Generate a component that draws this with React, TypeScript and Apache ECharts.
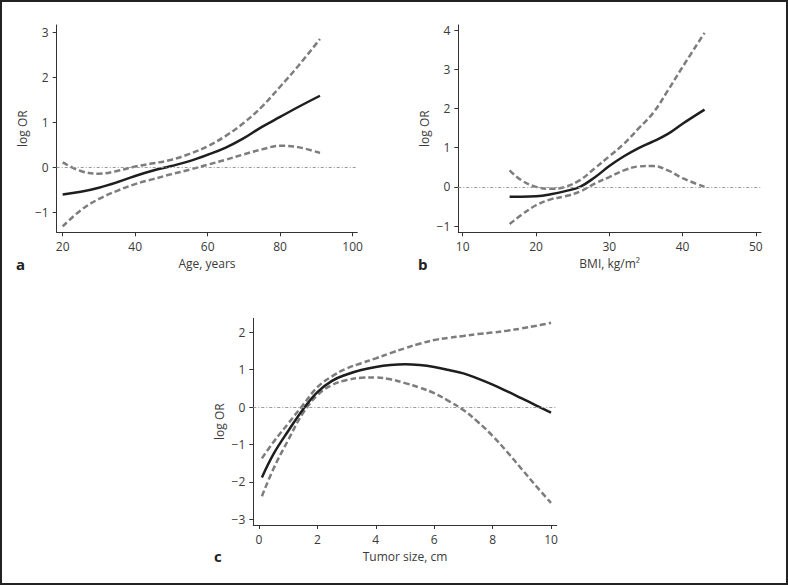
import React, { useEffect, useRef } from "react";
import * as echarts from "echarts";

// Panel a: Age
const ageX = [20, 25, 30, 35, 40, 45, 50, 55, 60, 65, 70, 75, 80, 85, 91];
const ageFit = [-0.6, -0.54, -0.45, -0.33, -0.19, -0.07, 0.03, 0.14, 0.28, 0.44, 0.65, 0.9, 1.12, 1.34, 1.59];
const ageUpper = [0.11, -0.08, -0.14, -0.08, 0.02, 0.09, 0.17, 0.3, 0.47, 0.7, 0.99, 1.35, 1.79, 2.25, 2.85];
const ageLower = [-1.31, -0.95, -0.7, -0.52, -0.37, -0.26, -0.15, -0.05, 0.06, 0.17, 0.29, 0.4, 0.48, 0.45, 0.32];

// Panel b: BMI
const bmiX = [16.4, 18, 20, 22, 24, 26, 28, 30, 32, 34, 36, 38, 40, 43];
const bmiFit = [-0.25, -0.25, -0.24, -0.19, -0.11, 0.0, 0.24, 0.53, 0.78, 0.99, 1.16, 1.35, 1.61, 1.97];
const bmiUpper = [0.42, 0.17, 0.0, -0.05, 0.0, 0.17, 0.47, 0.78, 1.1, 1.49, 1.89, 2.46, 3.06, 3.93];
const bmiLower = [-0.95, -0.72, -0.47, -0.32, -0.24, -0.12, 0.08, 0.25, 0.42, 0.52, 0.53, 0.42, 0.22, 0.0];

// Panel c: Tumor size
const tumX = [0.1, 0.5, 1, 1.5, 2, 2.5, 3, 3.5, 4, 4.5, 5, 5.5, 6, 6.5, 7, 7.5, 8, 8.5, 9, 9.5, 10];
const tumFit = [-1.88, -1.25, -0.64, -0.07, 0.4, 0.7, 0.87, 0.99, 1.07, 1.12, 1.14, 1.12, 1.07, 0.99, 0.9, 0.76, 0.6, 0.42, 0.23, 0.04, -0.15];
const tumUpper = [-1.37, -0.93, -0.44, 0.05, 0.53, 0.82, 1.03, 1.17, 1.3, 1.44, 1.57, 1.69, 1.79, 1.85, 1.9, 1.95, 1.99, 2.04, 2.1, 2.17, 2.25];
const tumLower = [-2.38, -1.64, -0.88, -0.17, 0.32, 0.59, 0.72, 0.78, 0.79, 0.74, 0.64, 0.52, 0.37, 0.16, -0.08, -0.4, -0.77, -1.2, -1.66, -2.12, -2.56];

const ageTicks = [20, 40, 60, 80, 100];
const bmiTicks = [10, 20, 30, 40, 50];
const tumTicks = [0, 2, 4, 6, 8, 10];
const ageYTicks = [-1, 0, 1, 2, 3];
const bmiYTicks = [-1, 0, 1, 2, 3, 4];
const tumYTicks = [-3, -2, -1, 0, 1, 2];

const FONT = "'Open Sans', 'Noto Sans', sans-serif";
const AXIS_COLOR = "#333";
const TEXT_COLOR = "#3a3a3a";

function fmt(v: number) {
  return v < 0 ? "\u2212" + Math.abs(v) : String(v);
}

function xAxisDef(gridIndex: number, min: number, max: number, ticks: number[], name: string) {
  return {
    type: "value",
    gridIndex,
    min,
    max,
    name,
    nameLocation: "middle",
    nameGap: 25,
    nameTextStyle: { fontFamily: FONT, fontSize: 12, color: TEXT_COLOR },
    axisLine: { show: true, onZero: false, lineStyle: { color: AXIS_COLOR, width: 1 } },
    axisTick: { show: true, length: 4, customValues: ticks, lineStyle: { color: AXIS_COLOR } },
    axisLabel: { customValues: ticks, margin: 8, fontFamily: FONT, fontSize: 12, color: TEXT_COLOR, formatter: fmt },
    splitLine: { show: false },
  };
}

function yAxisDef(gridIndex: number, min: number, max: number, ticks: number[]) {
  return {
    type: "value",
    gridIndex,
    min,
    max,
    name: "log OR",
    nameLocation: "middle",
    nameGap: 28,
    nameTextStyle: { fontFamily: FONT, fontSize: 12, color: TEXT_COLOR },
    axisLine: { show: true, onZero: false, lineStyle: { color: AXIS_COLOR, width: 1 } },
    axisTick: { show: true, length: 4, customValues: ticks, lineStyle: { color: AXIS_COLOR } },
    axisLabel: { customValues: ticks, margin: 8, fontFamily: FONT, fontSize: 12, color: TEXT_COLOR, formatter: fmt },
    splitLine: { show: false },
  };
}

function zip(xs: number[], ys: number[]) {
  return xs.map((x, i) => [x, ys[i]]);
}

function seriesFor(idx: number, xs: number[], fit: number[], up: number[], lo: number[]) {
  const dashed = { color: "#7d7d7d", width: 2.5, type: [6, 3] };
  return [
    {
      type: "line",
      xAxisIndex: idx,
      yAxisIndex: idx,
      data: zip(xs, up),
      smooth: 0.4,
      symbol: "none",
      lineStyle: dashed,
      z: 2,
      markLine: {
        silent: true,
        symbol: "none",
        label: { show: false },
        lineStyle: { color: "#9a9a9a", width: 1, type: [3, 2, 1, 2] },
        data: [{ yAxis: 0 }],
      },
    },
    {
      type: "line",
      xAxisIndex: idx,
      yAxisIndex: idx,
      data: zip(xs, lo),
      smooth: 0.4,
      symbol: "none",
      lineStyle: dashed,
      z: 2,
    },
    {
      type: "line",
      xAxisIndex: idx,
      yAxisIndex: idx,
      data: zip(xs, fit),
      smooth: 0.4,
      symbol: "none",
      lineStyle: { color: "#1e1e1e", width: 2.5 },
      z: 3,
    },
  ];
}

export default function App() {
  const ref = useRef<HTMLDivElement>(null);
  useEffect(() => {
    if (!ref.current) return;
    const chart = echarts.init(ref.current, undefined, { renderer: "svg" });
    const letterStyle = { fontFamily: FONT, fontSize: 15, fontWeight: "bold", fill: "#222" };
    chart.setOption({
      animation: false,
      backgroundColor: "#fff",
      grid: [
        { left: 56.7, top: 25, width: 300.6, height: 207.3 },
        { left: 458.3, top: 25, width: 302.7, height: 207.3 },
        { left: 253.3, top: 318.3, width: 303.4, height: 206.7 },
      ],
      xAxis: [
        xAxisDef(0, 18.35, 101.3, ageTicks, "Age, years"),
        xAxisDef(1, 9.4, 50.7, bmiTicks, "BMI, kg/m\u00B2"),
        xAxisDef(2, -0.195, 10.195, tumTicks, "Tumor size, cm"),
      ],
      yAxis: [
        yAxisDef(0, -1.44, 3.16, ageYTicks),
        yAxisDef(1, -1.16, 4.13, bmiYTicks),
        yAxisDef(2, -3.15, 2.37, tumYTicks),
      ],
      series: [
        ...seriesFor(0, ageX, ageFit, ageUpper, ageLower),
        ...seriesFor(1, bmiX, bmiFit, bmiUpper, bmiLower),
        ...seriesFor(2, tumX, tumFit, tumUpper, tumLower),
      ],
      graphic: [
        {
          type: "rect",
          shape: { x: 1, y: 1, width: 786, height: 583 },
          style: { fill: "none", stroke: "#222", lineWidth: 2 },
          silent: true,
        },
        { type: "text", x: 16, y: 256, style: { ...letterStyle, text: "a" } },
        { type: "text", x: 418, y: 256, style: { ...letterStyle, text: "b" } },
        { type: "text", x: 214, y: 548, style: { ...letterStyle, text: "c" } },
      ],
    });
    return () => chart.dispose();
  }, []);
  return (
    <div
      ref={ref}
      style={{ position: "absolute", left: 0, top: 0, width: 788, height: 585 }}
    />
  );
}
